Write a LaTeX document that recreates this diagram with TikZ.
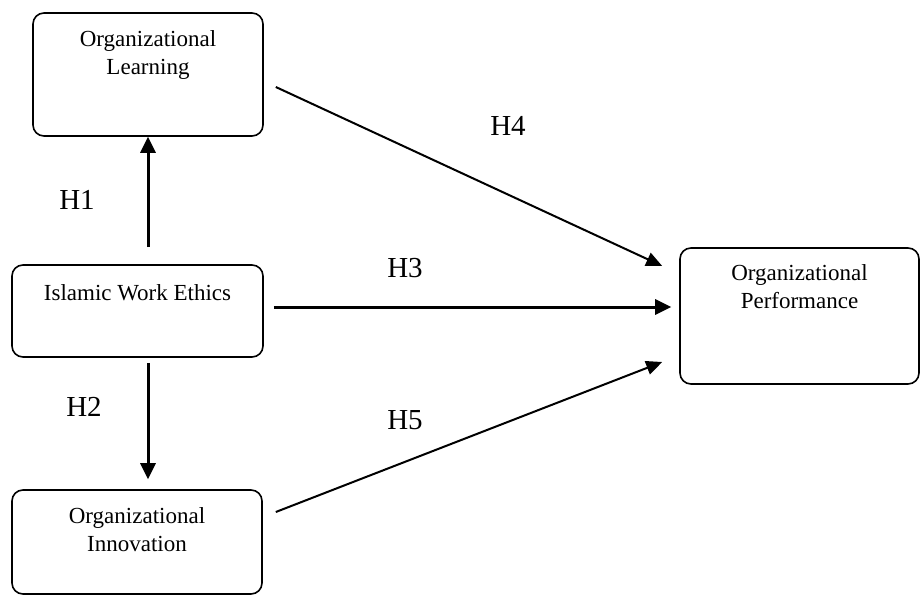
\documentclass[tikz,border=0pt]{standalone}
\usepackage{fontspec}
\setmainfont{Liberation Serif}
\usetikzlibrary{arrows.meta}
\begin{document}
\begin{tikzpicture}[x=1pt,y=-1pt,
  box/.style={draw=black, line width=1.6pt, rounded corners=11pt, inner sep=0pt},
  boxtext/.style={font=\fontsize{23}{28}\selectfont, align=center, anchor=north, inner sep=0pt},
  hyp/.style={font=\fontsize{29}{32}\selectfont, inner sep=0pt},
  thick arr/.style={line width=3pt, -{Triangle[length=16pt,width=15pt]}},
  thin arr/.style={line width=2pt, -{Triangle[length=16pt,width=14pt]}}]
\useasboundingbox (0,0) rectangle (921,596);
\node[box, minimum width=230pt, minimum height=123pt] (ol) at (148,74.5) {};
\node[boxtext] (olt) at ([yshift=-18pt]ol.north) {Organizational\\Learning};
\node[box, minimum width=251pt, minimum height=92pt] (iwe) at (137.5,311) {};
\node[boxtext] (iwet) at ([yshift=-20pt]iwe.north) {Islamic Work Ethics};
\node[box, minimum width=250pt, minimum height=104pt] (oi) at (137,542) {};
\node[boxtext] (oit) at ([yshift=-18pt]oi.north) {Organizational\\Innovation};
\node[box, minimum width=239pt, minimum height=136pt] (op) at (799.5,316) {};
\node[boxtext] (opt) at ([yshift=-17pt]op.north) {Organizational\\Performance};
\draw[thick arr, shorten <=17pt] (iwe.north -| ol.south) -- (ol.south);
\draw[thick arr, shorten <=5pt, shorten >=10pt] (iwe.south -| ol.south) -- (oi.north -| ol.south);
\draw[thick arr, shorten <=10pt, shorten >=8pt] ([yshift=4pt]iwe.east) -- ([yshift=9pt]op.west);
\draw[thin arr] ([xshift=12pt,yshift=-12.5pt]ol.east) -- ([xshift=-17pt,yshift=50pt]op.west);
\draw[thin arr] ([xshift=13pt,yshift=30pt]oi.east) -- ([xshift=-17pt,yshift=-46pt]op.west);
\node[hyp] (h1) at (77,200) {H1};
\node[hyp] (h2) at (84,407) {H2};
\node[hyp] (h3) at (405,268) {H3};
\node[hyp] (h4) at (508,126) {H4};
\node[hyp] (h5) at (405,420) {H5};
\end{tikzpicture}
\end{document}
